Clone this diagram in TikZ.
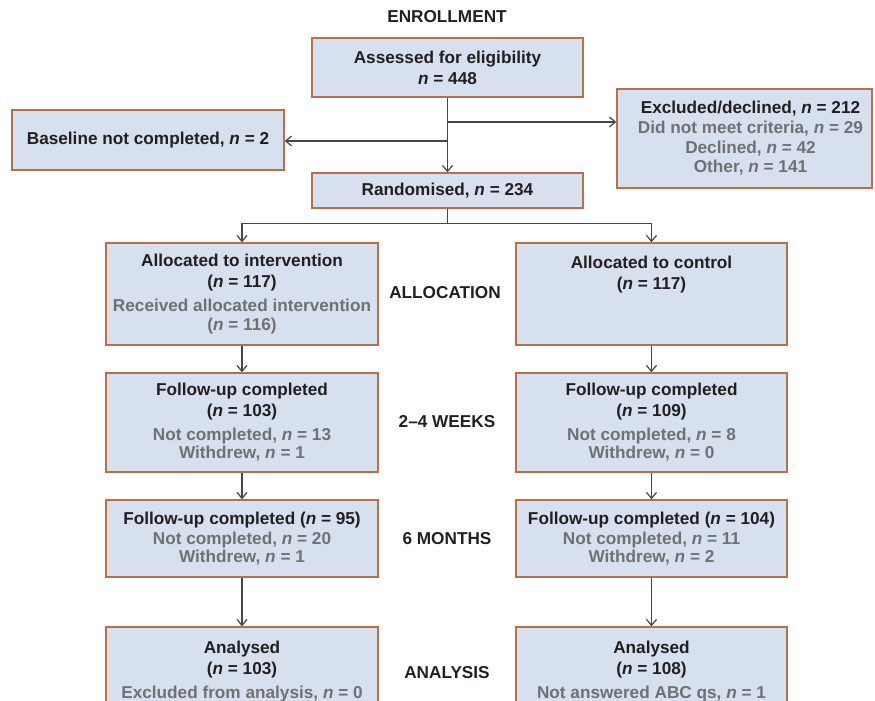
\documentclass[tikz,border=0pt]{standalone}
\usepackage{fontspec}
\setmainfont{Liberation Sans}
\usetikzlibrary{arrows.meta}
\definecolor{boxfill}{RGB}{214,224,238}
\definecolor{boxline}{RGB}{184,112,74}
\definecolor{textgrey}{RGB}{112,113,115}
\definecolor{textdark}{RGB}{35,31,32}
\definecolor{linegrey}{RGB}{70,70,70}
\newcommand{\nn}{\textit{n}}
\newcommand{\greytxt}[1]{{\color{textgrey}#1}}
\begin{document}
\begin{tikzpicture}
    [x=1pt,y=-1pt,
    box/.style={draw=boxline,fill=boxfill,line width=1.4pt,align=center,inner sep=0pt,
        text=textdark,font=\bfseries\fontsize{17.2}{21}\selectfont},
    phase/.style={text=textdark,font=\bfseries\fontsize{17.2}{21}\selectfont},
    arr/.style={draw=linegrey,line width=1.2pt,-{Straight Barb[length=6pt,width=10pt]}}]
    \clip (0,0) rectangle (875,701);
    %phase labels
    \node[phase] (enrol) at (447,17) {ENROLLMENT};
    \node[phase] (alloc) at (445,293) {ALLOCATION};
    \node[phase] (weeks) at (447,422) {2--4 WEEKS};
    \node[phase] (months) at (447,539) {6 MONTHS};
    \node[phase] (analysis) at (447,673) {ANALYSIS};
    %enrollment
    \node[box,minimum width=271,minimum height=59] (assess) at (447.5,67.5)
    {Assessed for eligibility\\\nn{} = 448};
    \node[box,minimum width=272,minimum height=60] (base) at (148,140)
    {Baseline not completed, \nn{} = 2};
    \node[box,minimum width=255,minimum height=99] (excl) at (744.5,138.5)
    {\hspace*{12pt}Excluded/declined, \nn{} = 212\\[-1pt]
    \hspace*{12pt}\greytxt{Did not meet criteria, \nn{} = 29}\\[-1pt]
    \hspace*{12pt}\greytxt{Declined, \nn{} = 42}\\[-2pt]
    \hspace*{12pt}\greytxt{Other, \nn{} = 141}};
    \node[box,minimum width=271,minimum height=35] (rand) at (447.5,190.5)
    {Randomised, \nn{} = 234};
    %allocation
    \node[box,minimum width=272,minimum height=102] (allocI) at (242,294)
    {Allocated to intervention\\(\nn{} = 117)\\[3pt]
    \greytxt{Received allocated intervention}\\[-2pt]\greytxt{(\nn{} = 116)}};
    \node[box,minimum width=271,minimum height=102,text depth=42] (allocC) at (651.5,294)
    {Allocated to control\\(\nn{} = 117)};
    %2-4 weeks
    \node[box,minimum width=272,minimum height=99] (fuI) at (242,422.5)
    {Follow-up completed\\(\nn{} = 103)\\[3pt]
    \greytxt{Not completed, \nn{} = 13}\\[-3pt]\greytxt{Withdrew, \nn{} = 1}};
    \node[box,minimum width=271,minimum height=99] (fuC) at (651.5,422.5)
    {Follow-up completed\\(\nn{} = 109)\\[3pt]
    \greytxt{Not completed, \nn{} = 8}\\[-3pt]\greytxt{Withdrew, \nn{} = 0}};
    %6 months
    \node[box,minimum width=272,minimum height=77] (sixI) at (242,538.5)
    {Follow-up completed (\nn{} = 95)\\[-1pt]
    \greytxt{Not completed, \nn{} = 20}\\[-3pt]\greytxt{Withdrew, \nn{} = 1}};
    \node[box,minimum width=271,minimum height=77] (sixC) at (651.5,538.5)
    {Follow-up completed (\nn{} = 104)\\[-1pt]
    \greytxt{Not completed, \nn{} = 11}\\[-3pt]\greytxt{Withdrew, \nn{} = 2}};
    %analysis
    \node[box,minimum width=272,minimum height=90] (anaI) at (242,672)
    {Analysed\\(\nn{} = 103)\\[3pt]
    \greytxt{Excluded from analysis, \nn{} = 0}};
    \node[box,minimum width=271,minimum height=90] (anaC) at (651.5,672)
    {Analysed\\(\nn{} = 108)\\[3pt]
    \greytxt{Not answered ABC qs, \nn{} = 1}};
    %arrows
    \coordinate (splitR) at (447.5,122);
    \coordinate (splitL) at (447.5,141);
    \draw[arr] (assess) -- (rand);
    \draw[arr] (splitR) -- (splitR -| excl.west);
    \draw[arr] (splitL) -- (splitL -| base.east);
    \draw[arr] (rand.south) -- ++(0,15) -| (allocI.north);
    \draw[arr] (rand.south) -- ++(0,15) -| (allocC.north);
    \draw[arr] (allocI) -- (fuI);
    \draw[arr] (allocC) -- (fuC);
    \draw[arr] (fuI) -- (sixI);
    \draw[arr] (fuC) -- (sixC);
    \draw[arr] (sixI) -- (anaI);
    \draw[arr] (sixC) -- (anaC);
\end{tikzpicture}
\end{document}
